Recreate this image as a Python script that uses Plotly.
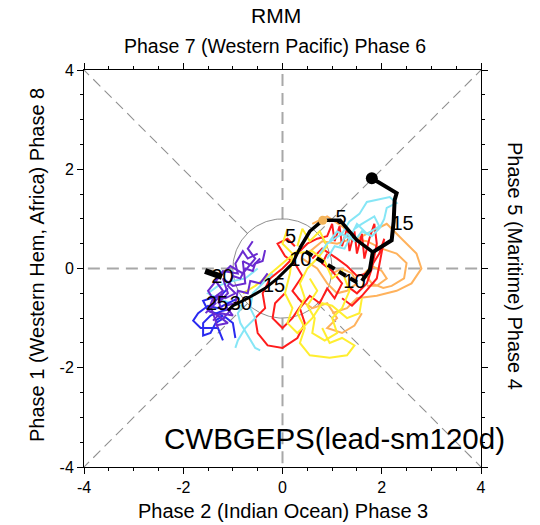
import numpy as np
import plotly.graph_objects as go

# ---------------- data (RMM1, RMM2) ----------------
orange_members = [
    ([0.5, 0.8, 1.1, 1.4, 1.7, 2.0, 2.3, 2.5, 2.45, 2.2, 2.03, 1.8, 1.65, 1.8, 2.0, 2.1, 1.9, 1.7],
     [0.3, 0.55, 0.5, 0.6, 0.55, 0.4, 0.3, 0.11, -0.2, -0.35, -0.39, -0.3, -0.1, 0.05, -0.05, -0.2, -0.35, -0.35]),
    ([0.6, 0.9, 1.2, 1.5, 1.8, 2.1, 2.4, 2.7, 2.8, 2.6, 2.3, 1.9, 1.5, 1.3, 1.0],
     [0.9, 1.05, 0.85, 0.6, 0.75, 0.9, 0.6, 0.3, 0.0, -0.3, -0.45, -0.55, -0.6, -0.8, -0.9]),
    ([0.4, 0.7, 0.9, 1.1, 1.3, 1.5, 1.4, 1.2, 1.0],
     [0.2, 0.0, -0.3, -0.5, -0.45, -0.3, -0.1, 0.0, -0.1]),
    ([0.3, 0.6, 0.9, 1.1, 0.9, 1.2, 1.45, 1.6],
     [-0.6, -0.8, -0.7, -1.0, -1.2, -1.3, -1.15, -0.9]),
]
red_members = [
    ([0.3, 0.5, 0.7, 0.9, 1.0, 1.05, 1.15, 1.2, 1.3, 1.35, 1.45, 1.5, 1.6, 1.65, 1.75, 1.85, 1.9, 1.8, 1.7, 1.5, 1.3],
     [0.3, 0.5, 0.6, 0.65, 0.9, 0.55, 0.85, 0.45, 0.8, 0.35, 0.75, 0.3, 0.7, 0.2, 0.6, 0.9, 0.5, 0.0, -0.3, -0.5, -0.35]),
    ([0.2, 0.0, -0.25, -0.4, -0.35, -0.55, -0.5, -0.3, 0.0, 0.3, 0.45, 0.35, 0.55, 0.75, 0.9, 1.05, 1.2, 1.0, 0.8, 0.9],
     [0.2, 0.0, -0.2, -0.5, -0.8, -1.0, -1.3, -1.55, -1.6, -1.4, -1.1, -0.8, -0.55, -0.7, -0.4, -0.6, -0.3, -0.05, 0.1, 0.3]),
    ([0.25, 0.1, -0.1, 0.05, 0.25, 0.4, 0.2, 0.4, 0.2, 0.0, -0.2, -0.15, 0.05],
     [0.45, 0.6, 0.5, 0.25, 0.1, -0.15, -0.45, -0.7, -1.0, -1.2, -1.0, -0.7, -0.5]),
    ([0.6, 0.8, 1.1, 1.3, 1.5, 1.7, 1.95, 2.05, 1.9, 1.6, 1.4, 1.2],
     [0.2, 0.4, 0.2, 0.05, -0.15, -0.1, 0.3, 0.6, -0.2, -0.55, -0.75, -0.6]),
]
yellow_members = [
    ([0.3, 0.4, 0.55, 0.75, 0.9, 0.7, 0.5, 0.35, 0.45, 0.3, 0.45, 0.35, 0.55, 0.95, 1.3, 1.45, 1.2, 0.95, 0.8],
     [0.45, 0.8, 0.55, 0.75, 0.45, 0.2, 0.0, -0.3, -0.6, -0.9, -1.2, -1.5, -1.75, -1.8, -1.75, -1.55, -1.4, -1.5, -1.2]),
    ([0.25, 0.6, 0.85, 1.0, 1.2, 1.35, 1.2, 1.0, 1.1, 0.85, 0.6, 0.65, 0.5, 0.7, 0.55],
     [0.3, 0.35, 0.15, -0.2, -0.05, -0.45, -0.8, -1.0, -1.3, -1.45, -1.3, -1.0, -0.75, -0.45, -0.2]),
    ([0.35, 0.0, -0.3, -0.55, -0.8],
     [0.4, 0.1, -0.15, -0.35, -0.5]),
    ([0.1, 0.0, 0.2, 0.15, 0.05, 0.2, 0.1, 0.3, 0.6, 0.8, 1.0, 1.3, 1.55, 1.6],
     [0.8, 0.5, 0.3, -0.1, -0.5, -0.8, -1.1, -1.3, -1.0, -0.7, -0.75, -1.0, -0.9, -0.6]),
]
cyan_members = [
    ([0.75, 0.9, 1.05, 1.2, 1.35, 1.55, 1.7, 1.95, 2.16, 2.3, 2.1, 2.05, 1.96, 1.8, 1.6, 1.45, 1.3, 1.15],
     [0.3, 0.5, 0.6, 0.7, 0.95, 1.1, 1.34, 1.4, 1.44, 1.32, 1.22, 1.0, 0.82, 0.65, 0.75, 0.55, 0.7, 0.45]),
    ([0.9, 1.05, 1.25, 1.45, 1.6, 1.85, 1.95, 1.7, 1.5, 1.35, 1.1, 0.95],
     [0.2, 0.45, 0.4, 0.8, 0.9, 1.05, 0.85, 0.7, 0.9, 0.6, 0.75, 0.55]),
    ([-0.5, -0.75, -1.0, -1.3, -1.5, -1.3, -1.05, -0.8, -0.9, -0.85, -0.7, -0.55, -0.45],
     [0.0, -0.2, -0.25, -0.35, -0.5, -0.6, -0.7, -0.75, -0.9, -1.1, -1.35, -1.6, -1.65]),
    ([-0.2, -0.4, -0.6, -0.65, -0.55, -0.75, -0.9, -0.95],
     [-0.1, -0.3, -0.5, -0.8, -1.0, -1.2, -1.45, -1.6]),
]
blue_members = [
    ([-1.0, -1.2, -1.45, -1.6, -1.6, -1.45, -1.35, -1.15, -1.0, -0.95],
     [-0.8, -0.85, -0.95, -1.1, -1.35, -1.3, -1.1, -0.98, -1.1, -1.4]),
    ([-0.9, -1.1, -1.3, -1.5, -1.7, -1.8, -1.65, -1.3, -1.2],
     [-0.6, -0.7, -0.8, -0.75, -0.9, -1.05, -1.2, -1.2, -1.45]),
    ([-1.1, -1.25, -1.45, -1.6, -1.5, -1.35, -1.2, -1.35],
     [-0.4, -0.55, -0.6, -0.65, -0.85, -0.9, -0.95, -1.05]),
]
purple_members = [
    ([-0.35, -0.4, -0.55, -0.6, -0.75, -0.85, -1.0, -1.1, -0.95, -1.15, -1.3, -1.25, -1.05, -1.2],
     [0.37, 0.15, 0.1, -0.05, 0.0, -0.2, -0.15, -0.35, -0.5, -0.6, -0.55, -0.8, -0.85, -1.0]),
    ([-0.5, -0.7, -0.8, -0.95, -0.9, -1.2, -1.35, -1.2, -1.4, -1.5, -1.3, -1.1, -1.35],
     [0.3, 0.2, 0.35, 0.1, -0.1, -0.05, -0.25, -0.45, -0.6, -0.85, -0.95, -1.1, -1.15]),
    ([-0.3, -0.45, -0.65, -0.7, -0.9, -0.95, -1.15, -1.0, -1.25, -1.4],
     [-0.1, -0.3, -0.25, -0.5, -0.45, -0.7, -0.75, -0.95, -0.9, -1.05]),
    ([-0.6, -0.7, -0.55, -0.8, -1.05, -1.3, -1.5, -1.35, -1.55],
     [0.55, 0.4, 0.2, -0.1, 0.05, -0.2, -0.45, -0.7, -0.9]),
    ([-0.45, -0.6, -0.8, -0.75, -1.0, -1.2, -1.1, -1.3, -1.2, -1.45, -1.3],
     [0.2, 0.05, 0.15, -0.3, -0.35, -0.2, -0.5, -0.7, -0.5, -0.75, -1.2]),
]

obs_x = [1.80, 2.30, 2.26, 2.24, 2.20, 1.82, 1.76, 1.60]
obs_y = [1.82, 1.52, 1.38, 0.95, 0.57, 0.33, -0.03, -0.25]
mean_dash_x = [1.50, 1.10, 0.70, 0.35]
mean_dash_y = [-0.28, -0.05, 0.20, 0.41]
mean_up_x = [0.35, 0.55, 0.81, 1.16, 1.50, 1.82]
mean_up_y = [0.41, 0.75, 0.97, 0.97, 0.57, 0.33]
mean_down_x = [0.35, 0.20, -0.10, -0.35, -0.70, -1.00, -1.10]
mean_down_y = [0.41, 0.10, -0.20, -0.40, -0.60, -0.75, -0.85]
tail_x = [-1.56, -1.22]
tail_y = [-0.05, -0.17]
start_dot = (1.80, 1.82)
orange_dot = (0.81, 0.97)

day_labels = ["5", "15", "10", "5", "10", "15", "20", "25", "30"]
day_label_x = [1.18, 2.42, 1.45, 0.16, 0.36, -0.17, -1.21, -1.32, -0.84]
day_label_y = [1.00, 0.88, -0.30, 0.62, 0.16, -0.37, -0.19, -0.74, -0.74]

tick_vals = [-4, -2, 0, 2, 4]

# ---------------- figure ----------------
fig = go.Figure()

# reference lines (phase boundaries, outside the unit circle)
for ang in [0, 90, 180, 270]:
    a = np.deg2rad(ang)
    r = np.array([1.0, 4.0])
    fig.add_trace(go.Scatter(x=r * np.cos(a), y=r * np.sin(a), mode="lines",
                             line=dict(color="#a8a8a8", width=2, dash="12px,7px"),
                             hoverinfo="skip", showlegend=False))
for ang in [45, 135, 225, 315]:
    a = np.deg2rad(ang)
    r = np.array([1.0, 4.0 * np.sqrt(2)])
    fig.add_trace(go.Scatter(x=r * np.cos(a), y=r * np.sin(a), mode="lines",
                             line=dict(color="#909090", width=1.1, dash="10px,6px"),
                             hoverinfo="skip", showlegend=False))
th = np.linspace(0, 2 * np.pi, 200)
fig.add_trace(go.Scatter(x=np.cos(th), y=np.sin(th), mode="lines",
                         line=dict(color="#707070", width=0.8),
                         hoverinfo="skip", showlegend=False))

groups = [
    (orange_members, "#ffb25c"),
    (red_members, "#ff1c1c"),
    (yellow_members, "#ffee30"),
    (cyan_members, "#86e6f6"),
    (blue_members, "#2a2af0"),
    (purple_members, "#6a2bd0"),
]
for members, col in groups:
    for mx, my in members:
        fig.add_trace(go.Scatter(x=mx, y=my, mode="lines",
                                 line=dict(color=col, width=2),
                                 hoverinfo="skip", showlegend=False))

fig.add_trace(go.Scatter(x=obs_x, y=obs_y, mode="lines", line=dict(color="black", width=4), showlegend=False))
fig.add_trace(go.Scatter(x=mean_up_x, y=mean_up_y, mode="lines", line=dict(color="black", width=3.5), showlegend=False))
fig.add_trace(go.Scatter(x=mean_dash_x, y=mean_dash_y, mode="lines",
                         line=dict(color="black", width=4, dash="8px,5px"), showlegend=False))
fig.add_trace(go.Scatter(x=mean_down_x, y=mean_down_y, mode="lines", line=dict(color="black", width=3), showlegend=False))
fig.add_trace(go.Scatter(x=tail_x, y=tail_y, mode="lines", line=dict(color="black", width=6), showlegend=False))
fig.add_trace(go.Scatter(x=[start_dot[0]], y=[start_dot[1]], mode="markers",
                         marker=dict(color="black", size=12), showlegend=False))
fig.add_trace(go.Scatter(x=[orange_dot[0]], y=[orange_dot[1]], mode="markers",
                         marker=dict(color="#f2b45a", size=9), showlegend=False))
fig.add_trace(go.Scatter(x=day_label_x, y=day_label_y, mode="text", text=day_labels,
                         textfont=dict(family="Liberation Sans, Arial, sans-serif", size=20, color="black"),
                         textposition="middle center", showlegend=False))

FONT = "Liberation Sans, Arial, Helvetica, sans-serif"
axis_common = dict(range=[-4, 4], tickvals=tick_vals, ticktext=[str(v) for v in tick_vals],
                   showgrid=False, zeroline=False, showline=True, linecolor="black", linewidth=1,
                   mirror="ticks", ticks="outside", ticklen=6, tickwidth=1, tickcolor="black",
                   minor=dict(dtick=0.5, ticks="outside", ticklen=3, tickcolor="black", tickwidth=1),
                   tickfont=dict(family=FONT, size=16, color="black"), fixedrange=True)
fig.update_xaxes(**axis_common)
fig.update_yaxes(**axis_common)

W, H = 540, 525
L, R, T, B = 84, 59, 70, 58
pw, ph = W - L - R, H - T - B


def px(xp):
    return (xp - L) / pw


def py(yp):
    return (H - B - yp) / ph


ann = [
    dict(text="RMM", x=px(276), y=py(16), size=21, angle=0),
    dict(text="Phase 7 (Western Pacific) Phase 6", x=px(275), y=py(46), size=19.5, angle=0),
    dict(text="Phase 2 (Indian Ocean) Phase 3", x=px(283), y=py(511), size=20, angle=0),
    dict(text="Phase 1 (Western Hem, Africa) Phase 8", x=px(37), y=py(265), size=20, angle=-90),
    dict(text="Phase 5 (Maritime) Phase 4", x=px(515), y=py(266), size=20, angle=90),
    dict(text="CWBGEPS(lead-sm120d)", x=px(334), y=py(438), size=29.5, angle=0),
]
for a in ann:
    fig.add_annotation(text=a["text"], x=a["x"], y=a["y"], xref="paper", yref="paper",
                       xanchor="center", yanchor="middle", showarrow=False, textangle=a["angle"],
                       font=dict(family=FONT, size=a["size"], color="black"))

fig.update_layout(width=W, height=H, margin=dict(l=L, r=R, t=T, b=B, pad=0),
                  paper_bgcolor="white", plot_bgcolor="white", showlegend=False)

fig.write_html("out.html")
